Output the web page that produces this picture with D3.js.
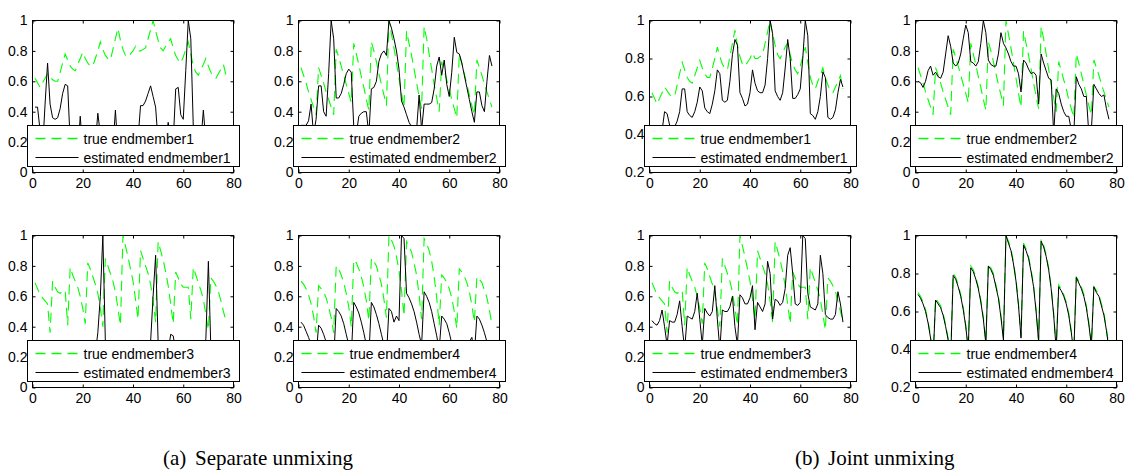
<!DOCTYPE html>
<html>
<head>
<meta charset="utf-8">
<script src="https://cdn.jsdelivr.net/npm/d3@7"></script>
<style>
  body { margin: 0; background: #fff; }
  svg { display: block; }
  text { font-family: "Liberation Sans", Arial, sans-serif; fill: #000; }
  .caption { font-family: "Liberation Serif", "Times New Roman", serif; font-size: 21px; }
</style>
</head>
<body>
<svg id="chart" width="1128" height="470"></svg>
<script>
// tick labels
const xTicks = [0, 20, 40, 60, 80];
const yTicksFull = [0, 0.2, 0.4, 0.6, 0.8, 1];
const yTicksShort = [0.2, 0.4, 0.6, 0.8, 1];

// true endmembers (77 bands)
const trueEm1 = [
  0.62, 0.59, 0.56, 0.59, 0.62, 0.65, 0.63,
  0.61, 0.60, 0.60, 0.66, 0.72, 0.78, 0.74,
  0.70, 0.68, 0.67, 0.71, 0.75, 0.79, 0.75,
  0.72, 0.70, 0.70, 0.75, 0.80, 0.86, 0.81,
  0.77, 0.75, 0.74, 0.81, 0.88, 0.95, 0.87,
  0.81, 0.77, 0.76, 0.78, 0.80, 0.83, 0.80,
  0.80, 0.81, 0.82, 0.88, 0.94, 1.00, 0.93,
  0.87, 0.82, 0.80, 0.83, 0.86, 0.88, 0.82,
  0.77, 0.74, 0.72, 0.76, 0.81, 0.86, 0.78,
  0.70, 0.66, 0.64, 0.68, 0.71, 0.75, 0.70,
  0.66, 0.63, 0.62, 0.65, 0.68, 0.71, 0.64
];
const trueEm2 = [
  0.69, 0.64, 0.59, 0.53, 0.48, 0.43, 0.38,
  0.69, 0.64, 0.59, 0.53, 0.48, 0.43, 0.38,
  0.81, 0.76, 0.70, 0.64, 0.58, 0.52, 0.46,
  0.85, 0.78, 0.71, 0.63, 0.56, 0.48, 0.41,
  0.86, 0.80, 0.73, 0.65, 0.58, 0.51, 0.44,
  1.00, 0.91, 0.82, 0.72, 0.62, 0.52, 0.43,
  0.93, 0.85, 0.77, 0.68, 0.59, 0.50, 0.42,
  0.96, 0.88, 0.78, 0.68, 0.58, 0.49, 0.40,
  0.73, 0.67, 0.61, 0.55, 0.48, 0.42, 0.36,
  0.78, 0.72, 0.65, 0.58, 0.51, 0.44, 0.38,
  0.74, 0.69, 0.64, 0.58, 0.53, 0.48, 0.43
];
const trueEm3 = [
  0.69, 0.65, 0.61, 0.59, 0.57, 0.55, 0.36,
  0.70, 0.66, 0.63, 0.62, 0.63, 0.64, 0.41,
  0.79, 0.74, 0.70, 0.66, 0.60, 0.52, 0.42,
  0.82, 0.78, 0.73, 0.68, 0.62, 0.52, 0.40,
  0.85, 0.80, 0.75, 0.70, 0.63, 0.52, 0.41,
  1.00, 0.93, 0.86, 0.78, 0.70, 0.58, 0.45,
  0.90, 0.85, 0.80, 0.75, 0.68, 0.57, 0.43,
  0.96, 0.90, 0.84, 0.76, 0.67, 0.55, 0.42,
  0.76, 0.72, 0.68, 0.66, 0.66, 0.66, 0.45,
  0.79, 0.74, 0.69, 0.64, 0.58, 0.48, 0.38,
  0.72, 0.70, 0.67, 0.63, 0.57, 0.50, 0.44
];
const trueEm4 = [
  0.70, 0.68, 0.65, 0.61, 0.55, 0.47, 0.36,
  0.67, 0.65, 0.63, 0.59, 0.53, 0.46, 0.36,
  0.80, 0.78, 0.74, 0.69, 0.62, 0.53, 0.40,
  0.84, 0.82, 0.78, 0.73, 0.66, 0.57, 0.44,
  0.85, 0.83, 0.80, 0.74, 0.68, 0.58, 0.46,
  1.00, 0.97, 0.93, 0.86, 0.77, 0.64, 0.47,
  0.96, 0.93, 0.89, 0.82, 0.74, 0.61, 0.45,
  0.98, 0.95, 0.90, 0.83, 0.73, 0.59, 0.41,
  0.74, 0.72, 0.69, 0.65, 0.59, 0.50, 0.39,
  0.78, 0.76, 0.73, 0.69, 0.63, 0.54, 0.43,
  0.73, 0.71, 0.69, 0.64, 0.59, 0.51, 0.41
];

// estimated endmembers, separate unmixing
const sepEst1 = [
  0.43, 0.43, 0.28, 0.15, 0.45, 0.72, 0.45,
  0.36, 0.35, 0.36, 0.42, 0.52, 0.58, 0.57,
  0.20, 0.12, 0.10, 0.12, 0.37, 0.15, 0.10,
  0.12, 0.18, 0.14, 0.18, 0.39, 0.25, 0.20,
  0.15, 0.14, 0.12, 0.16, 0.41, 0.15, 0.12,
  0.10, 0.14, 0.18, 0.15, 0.12, 0.20, 0.22,
  0.44, 0.44, 0.47, 0.52, 0.57, 0.50, 0.43,
  0.20, 0.15, 0.18, 0.20, 0.33, 0.22, 0.20,
  0.55, 0.56, 0.38, 0.35, 0.67, 1.00, 0.88,
  0.30, 0.15, 0.12, 0.20, 0.41, 0.20, 0.15,
  0.12, 0.15, 0.18, 0.15, 0.12, 0.14, 0.15
];
const sepEst2 = [
  0.31, 0.31, 0.31, 0.34, 0.45, 0.25, 0.35,
  0.57, 0.57, 0.40, 0.37, 0.65, 1.00, 0.88,
  0.49, 0.49, 0.52, 0.58, 0.65, 0.68, 0.66,
  0.30, 0.25, 0.37, 0.39, 0.40, 0.40, 0.25,
  0.55, 0.56, 0.60, 0.73, 0.78, 0.80, 0.77,
  1.00, 0.95, 0.88, 0.80, 0.68, 0.47, 0.43,
  0.38, 0.33, 0.30, 0.25, 0.28, 0.51, 0.28,
  0.45, 0.45, 0.45, 0.46, 0.55, 0.70, 0.76,
  0.64, 0.74, 0.58, 0.50, 0.66, 0.89, 0.79,
  0.78, 0.72, 0.64, 0.56, 0.48, 0.40, 0.33,
  0.53, 0.53, 0.44, 0.40, 0.60, 0.77, 0.70
];
const sepEst3 = [
  0.20, 0.18, 0.15, 0.12, 0.15, 0.18, 0.14,
  0.12, 0.15, 0.18, 0.16, 0.14, 0.12, 0.15,
  0.18, 0.16, 0.14, 0.12, 0.15, 0.17, 0.15,
  0.13, 0.15, 0.18, 0.22, 0.36, 0.60, 1.00,
  0.30, 0.15, 0.12, 0.14, 0.16, 0.14, 0.12,
  0.15, 0.17, 0.15, 0.13, 0.15, 0.18, 0.16,
  0.14, 0.12, 0.15, 0.20, 0.30, 0.60, 0.87,
  0.30, 0.15, 0.13, 0.16, 0.24, 0.35, 0.34,
  0.24, 0.15, 0.13, 0.15, 0.17, 0.15, 0.13,
  0.15, 0.17, 0.15, 0.14, 0.20, 0.32, 0.83,
  0.25, 0.15, 0.13, 0.15, 0.17, 0.15, 0.14
];
const sepEst4 = [
  0.43, 0.41, 0.37, 0.33, 0.28, 0.22, 0.20,
  0.41, 0.39, 0.35, 0.30, 0.24, 0.20, 0.18,
  0.52, 0.50, 0.47, 0.42, 0.35, 0.28, 0.20,
  0.56, 0.53, 0.49, 0.43, 0.36, 0.28, 0.20,
  0.56, 0.53, 0.48, 0.42, 0.35, 0.28, 0.20,
  0.52, 0.50, 0.43, 0.47, 0.44, 1.00, 0.98,
  0.62, 0.59, 0.55, 0.50, 0.43, 0.35, 0.28,
  0.63, 0.60, 0.56, 0.50, 0.42, 0.34, 0.25,
  0.47, 0.45, 0.42, 0.36, 0.29, 0.22, 0.20,
  0.18, 0.20, 0.22, 0.25, 0.30, 0.33, 0.22,
  0.47, 0.45, 0.41, 0.36, 0.30, 0.22, 0.20
];

// estimated endmembers, joint unmixing
const jointEst1 = [
  0.40, 0.38, 0.36, 0.35, 0.42, 0.52, 0.51,
  0.45, 0.42, 0.44, 0.47, 0.52, 0.64, 0.64,
  0.52, 0.50, 0.49, 0.52, 0.57, 0.65, 0.63,
  0.54, 0.52, 0.51, 0.56, 0.63, 0.74, 0.72,
  0.58, 0.57, 0.58, 0.68, 0.82, 0.90, 0.87,
  0.62, 0.59, 0.55, 0.56, 0.62, 0.74, 0.67,
  0.63, 0.62, 0.62, 0.66, 0.80, 1.00, 0.93,
  0.63, 0.60, 0.58, 0.62, 0.75, 0.90, 0.80,
  0.59, 0.59, 0.61, 0.64, 0.80, 1.00, 0.92,
  0.51, 0.50, 0.48, 0.52, 0.60, 0.73, 0.70,
  0.49, 0.48, 0.49, 0.53, 0.62, 0.69, 0.65
];
const jointEst2 = [
  0.60, 0.59, 0.56, 0.60, 0.67, 0.70, 0.64,
  0.66, 0.63, 0.62, 0.66, 0.78, 0.90, 0.83,
  0.72, 0.70, 0.72, 0.78, 0.88, 0.97, 0.92,
  0.73, 0.72, 0.70, 0.73, 0.85, 1.00, 0.92,
  0.74, 0.71, 0.70, 0.70, 0.78, 0.92, 0.85,
  0.82, 0.78, 0.73, 0.70, 0.70, 0.65, 0.53,
  0.74, 0.72, 0.68, 0.65, 0.66, 0.64, 0.45,
  0.78, 0.72, 0.67, 0.62, 0.61, 0.25, 0.55,
  0.52, 0.45, 0.40, 0.37, 0.37, 0.28, 0.25,
  0.63, 0.58, 0.55, 0.50, 0.50, 0.25, 0.28,
  0.58, 0.55, 0.52, 0.50, 0.51, 0.42, 0.35
];
const jointEst3 = [
  0.44, 0.42, 0.41, 0.44, 0.51, 0.40, 0.28,
  0.44, 0.43, 0.43, 0.48, 0.57, 0.40, 0.25,
  0.47, 0.46, 0.45, 0.50, 0.62, 0.45, 0.28,
  0.52, 0.49, 0.47, 0.50, 0.67, 0.45, 0.25,
  0.51, 0.50, 0.50, 0.53, 0.60, 0.40, 0.28,
  0.61, 0.59, 0.55, 0.55, 0.59, 0.67, 0.38,
  0.56, 0.53, 0.50, 0.55, 0.83, 0.75, 0.45,
  0.58, 0.57, 0.54, 0.56, 0.65, 0.87, 0.92,
  0.75, 0.55, 0.54, 0.56, 1.00, 0.98, 0.62,
  0.53, 0.52, 0.51, 0.55, 0.87, 0.75, 0.48,
  0.46, 0.45, 0.45, 0.48, 0.63, 0.55, 0.43
];
const jointEst4 = [
  0.69, 0.67, 0.64, 0.60, 0.54, 0.46, 0.35,
  0.66, 0.64, 0.62, 0.58, 0.52, 0.45, 0.35,
  0.79, 0.77, 0.73, 0.68, 0.61, 0.52, 0.40,
  0.83, 0.81, 0.77, 0.72, 0.65, 0.56, 0.43,
  0.84, 0.82, 0.79, 0.73, 0.67, 0.57, 0.45,
  1.00, 0.96, 0.92, 0.85, 0.76, 0.63, 0.46,
  0.95, 0.92, 0.88, 0.81, 0.73, 0.60, 0.44,
  0.97, 0.94, 0.89, 0.82, 0.72, 0.58, 0.40,
  0.73, 0.71, 0.68, 0.64, 0.58, 0.49, 0.38,
  0.78, 0.75, 0.72, 0.68, 0.62, 0.53, 0.42,
  0.73, 0.70, 0.68, 0.63, 0.58, 0.50, 0.40
];

// band index for every value
const bands = d3.range(1, trueEm1.length + 1);

// panel layout
const plotW = 201;
const plotH = 152;
const legendW = 212;
const legendH = 41;

const panels = [
  { left: 32,  top: 20,  trueData: trueEm1, estData: sepEst1,   yMin: 0,   k: 1 },
  { left: 298, top: 20,  trueData: trueEm2, estData: sepEst2,   yMin: 0,   k: 2 },
  { left: 32,  top: 235, trueData: trueEm3, estData: sepEst3,   yMin: 0,   k: 3 },
  { left: 298, top: 235, trueData: trueEm4, estData: sepEst4,   yMin: 0,   k: 4 },
  { left: 649, top: 20,  trueData: trueEm1, estData: jointEst1, yMin: 0.2, k: 1 },
  { left: 915, top: 20,  trueData: trueEm2, estData: jointEst2, yMin: 0,   k: 2 },
  { left: 649, top: 235, trueData: trueEm3, estData: jointEst3, yMin: 0,   k: 3 },
  { left: 915, top: 235, trueData: trueEm4, estData: jointEst4, yMin: 0.2, k: 4 }
];

const svg = d3.select("#chart");

/**
 * Draw one subplot: both curves, the box with ticks and the legend
 */
function drawPanel(p, i) {
  const x = d3.scaleLinear().domain([0, 80]).range([0, plotW]);
  const y = d3.scaleLinear().domain([p.yMin, 1]).range([plotH, 0]);
  const yTicks = p.yMin === 0 ? yTicksFull : yTicksShort;

  const g = svg.append("g")
    .attr("transform", `translate(${p.left + 0.5},${p.top + 0.5})`);

  // clip the curves to the axes box
  g.append("clipPath")
    .attr("id", "clip_" + i)
    .append("rect")
    .attr("width", plotW)
    .attr("height", plotH);

  const line = d3.line()
    .x((d, j) => x(bands[j]))
    .y((d) => y(d));

  const curves = g.append("g").attr("clip-path", `url(#clip_${i})`);

  curves.append("path")
    .datum(p.trueData)
    .attr("d", line)
    .attr("fill", "none")
    .attr("stroke", "#00ff00")
    .attr("stroke-width", 1.1)
    .attr("stroke-dasharray", "10,6");

  curves.append("path")
    .datum(p.estData)
    .attr("d", line)
    .attr("fill", "none")
    .attr("stroke", "#000")
    .attr("stroke-width", 1);

  // axes with inward ticks
  const fmt = d3.format("~g");
  const bottom = g.append("g")
    .attr("transform", `translate(0,${plotH})`)
    .call(d3.axisBottom(x).tickValues(xTicks).tickSizeInner(-3).tickSizeOuter(0).tickPadding(6).tickFormat(fmt));
  const left = g.append("g")
    .call(d3.axisLeft(y).tickValues(yTicks).tickSizeInner(-3).tickSizeOuter(0).tickPadding(5).tickFormat(fmt));
  const top = g.append("g")
    .call(d3.axisTop(x).tickValues(xTicks).tickSizeInner(-3).tickSizeOuter(0).tickFormat(""));
  const right = g.append("g")
    .attr("transform", `translate(${plotW},0)`)
    .call(d3.axisRight(y).tickValues(yTicks).tickSizeInner(-3).tickSizeOuter(0).tickFormat(""));

  [bottom, left, top, right].forEach((a) => {
    a.select(".domain").remove();
    a.selectAll("text")
      .attr("fill", "#000")
      .style("font-family", '"Liberation Sans", Arial, sans-serif')
      .style("font-size", "14px");
  });

  g.append("rect")
    .attr("width", plotW)
    .attr("height", plotH)
    .attr("fill", "none")
    .attr("stroke", "#000");

  // legend sits on top of the curves with a white background
  const lg = g.append("g")
    .attr("transform", `translate(${Math.round(plotW / 2 - legendW / 2)},${plotH - 6 - legendH})`);

  lg.append("rect")
    .attr("width", legendW)
    .attr("height", legendH)
    .attr("fill", "#fff")
    .attr("stroke", "#000");

  const entries = [
    { label: "true endmember" + p.k, color: "#00ff00", dash: "10,6", width: 1.4, cy: 13 },
    { label: "estimated endmember" + p.k, color: "#000", dash: null, width: 1, cy: 32 }
  ];

  entries.forEach((e) => {
    lg.append("line")
      .attr("x1", 8)
      .attr("x2", 51)
      .attr("y1", e.cy)
      .attr("y2", e.cy)
      .attr("stroke", e.color)
      .attr("stroke-width", e.width)
      .attr("stroke-dasharray", e.dash);
    lg.append("text")
      .attr("x", 56)
      .attr("y", e.cy + 5)
      .style("font-size", "14px")
      .text(e.label);
  });
}

panels.forEach(drawPanel);

// sub-figure captions
const captions = [
  { tag: "(a)", text: "Separate unmixing", x: 163, xt: 195 },
  { tag: "(b)", text: "Joint unmixing", x: 795, xt: 828 }
];
captions.forEach((c) => {
  svg.append("text").attr("class", "caption").attr("x", c.x).attr("y", 465).text(c.tag);
  svg.append("text").attr("class", "caption").attr("x", c.xt).attr("y", 465).text(c.text);
});
</script>
</body>
</html>
